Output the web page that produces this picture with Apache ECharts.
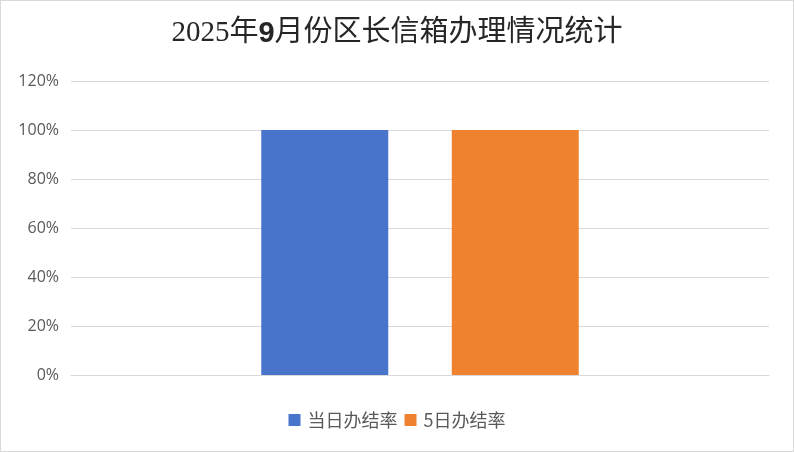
<!DOCTYPE html>
<html><head><meta charset="utf-8">
<script src="https://cdn.jsdelivr.net/npm/echarts@6/dist/echarts.min.js"></script>
<style>html,body{margin:0;padding:0;background:#fff}#c{width:794px;height:452px;box-sizing:border-box;border:1px solid #d9d9d9}</style>
</head><body><div id="c"></div>
<script>
const categories = ['办结率'];
const seriesNames = ['当日办结率', '5日办结率'];
const sameDayRate = [100];
const fiveDayRate = [100];
const yTicks = [0, 20, 40, 60, 80, 100, 120];

const chart = echarts.init(document.getElementById('c'), null, {renderer: 'canvas'});
chart.setOption({
  animation: false,
  title: {
    text: '{a|2025年}{b|9}{a|月份区长信箱办理情况统计}',
    left: 'center', top: 13,
    textStyle: {
      fontSize: 29, fontWeight: 'normal',
      rich: {
        a: {fontFamily: '"Liberation Serif","Noto Sans CJK SC",serif', fontSize: 29, fontWeight: 'normal', color: '#262626'},
        b: {fontFamily: '"Liberation Sans",sans-serif', fontWeight: 'bold', fontSize: 29, color: '#262626'}
      }
    }
  },
  grid: {left: 70, right: 24, top: 80, bottom: 76, containLabel: false},
  legend: {
    bottom: 17, left: 'center', itemWidth: 12, itemHeight: 12, itemGap: 7,
    icon: 'rect',
    textStyle: {fontSize: 18, color: '#595959', padding: [0, 0, 0, 2], fontFamily: '"Noto Sans CJK SC",sans-serif'},
    data: seriesNames
  },
  xAxis: {
    type: 'category', data: categories,
    axisLine: {lineStyle: {color: '#d9d9d9', width: 1}},
    axisTick: {show: false}, axisLabel: {show: false}
  },
  yAxis: {
    type: 'value', min: yTicks[0], max: yTicks[yTicks.length - 1], interval: 20,
    axisLine: {show: false}, axisTick: {show: false},
    axisLabel: {formatter: '{value}%', fontSize: 16, color: '#595959', margin: 12, fontFamily: '"Open Sans","Noto Sans",sans-serif'},
    splitLine: {lineStyle: {color: '#d9d9d9', width: 1}}
  },
  series: [
    {name: seriesNames[0], type: 'bar', data: sameDayRate, barWidth: 127, barGap: '50%', itemStyle: {color: '#4874cb'}},
    {name: seriesNames[1], type: 'bar', data: fiveDayRate, barWidth: 127, itemStyle: {color: '#ee822f'}}
  ]
});
</script></body></html>
